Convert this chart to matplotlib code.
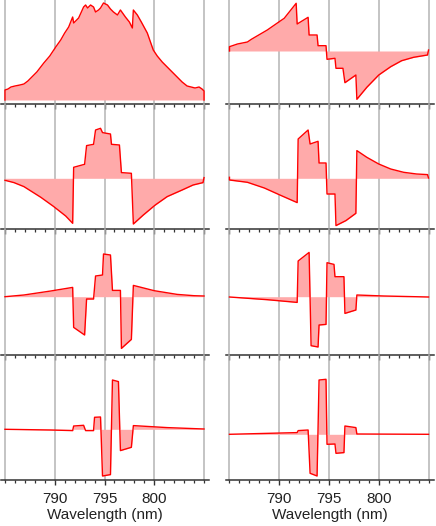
import matplotlib
matplotlib.use('Agg')
import matplotlib.pyplot as plt
from matplotlib.ticker import MultipleLocator

plt.rcParams['font.family'] = ['Liberation Sans', 'DejaVu Sans']

# wavelength (nm) / amplitude (arb. units), one pair per panel
wl_1 = [785.0, 785.0, 785.3, 785.6, 786.0, 786.5, 786.9, 787.3, 787.6, 788.2, 788.9, 789.5,
        790.1, 790.6, 791.0, 791.4, 791.8, 791.9, 792.4, 792.9, 793.1, 793.3, 793.6, 793.9,
        794.1, 794.4, 794.6, 794.9, 795.3, 795.6, 795.9, 796.3, 796.6, 797.1, 797.5, 797.8,
        797.9, 798.3, 798.7, 799.3, 799.9, 800.3, 800.8, 801.3, 801.8, 802.3, 802.8, 803.3,
        803.7, 804.1, 804.5, 804.8, 805.0, 805.0]
amp_1 = [0, 10, 11, 13, 14, 15, 16, 19, 22, 28, 37, 44,
         53, 60, 67, 73, 83, 77, 82, 93, 95, 92, 95, 93,
         88, 90, 92, 97, 95, 91, 88, 85, 90, 83, 78, 72,
         90, 85, 78, 67, 50, 44, 38, 33, 28, 23, 18, 14,
         13, 12, 13, 11, 9, 0]

wl_2 = [785.0, 785.0, 785.8, 786.8, 787.2, 788.8, 790.0, 790.5, 791.7, 791.8, 792.9, 793.0,
        793.8, 793.9, 794.7, 794.8, 795.6, 795.7, 796.4, 796.6, 797.7, 797.8, 798.8, 800.0,
        801.2, 802.3, 803.5, 804.9, 805.0]
amp_2 = [0, 4.3, 7, 9, 11.7, 21, 29.3, 32.7, 47.7, 27, 33.7, 16,
         16, 5.3, 5.3, -8.3, -7.3, -17.3, -17.3, -31.7, -24, -48.3, -36.3, -24,
         -15.7, -9.7, -6.3, -4, 1]

wl_3 = [785.0, 785.9, 786.9, 788.6, 789.9, 791.1, 791.8, 791.9, 793.0, 793.2, 793.9, 794.1,
        794.6, 794.8, 795.6, 795.7, 796.5, 796.7, 797.7, 797.9, 798.9, 800.1, 801.3, 802.8,
        803.9, 804.9, 805.0]
amp_3 = [-2, -4.3, -8.3, -19, -28.3, -37.7, -45, 11, 14, 32.7, 34, 48.3,
         50, 45.7, 44.3, 34, 33.3, 5.7, 5, -45.7, -36.7, -26.7, -18.3, -11.7,
         -6.7, -4.3, 0.7]

wl_4 = [785.0, 785.0, 786.8, 788.5, 790.2, 791.8, 791.9, 792.9, 793.1, 793.9, 794.0, 794.7,
        794.8, 795.6, 795.7, 796.7, 797.7, 797.8, 798.8, 800.0, 801.2, 802.5, 803.8, 804.9,
        805.0]
amp_4 = [1, -1.7, -4, -9.7, -17.3, -24.3, 39.3, 48.3, 34.3, 37, 15.3, 15.3,
         -15.7, -15.7, -47.3, -42.3, -35, 27.7, 21, 14.3, 9.3, 6, 4.3, 3.7,
         0.3]

wl_5 = [785.0, 786.9, 789.6, 791.8, 791.9, 793.0, 793.2, 793.9, 794.1, 794.8, 794.9, 795.6,
        795.8, 796.6, 796.7, 797.7, 797.9, 800.0, 802.3, 804.0, 805.0]
amp_5 = [0, 1.7, 5.7, 9.3, -30.7, -38.3, -2.3, -2.3, 20.7, 21.7, 42.7, 41.7,
         6.3, 6.3, -51.7, -42.7, 11.3, 6, 2.3, 1, 0.7]

wl_6 = [785.0, 788.8, 791.8, 791.9, 793.0, 793.2, 793.9, 794.0, 794.7, 794.8, 795.5, 795.6,
        796.5, 796.6, 797.7, 797.8, 800.5, 805.0]
amp_6 = [-0.3, -3, -5.7, 35.7, 44.3, -49, -50.3, -28.3, -27.7, 34, 32.3, 20,
         20, -16.7, -13.3, 1.7, 0.7, -0.3]

wl_7 = [785.0, 789.6, 791.8, 791.9, 792.9, 793.1, 793.9, 794.0, 794.6, 794.8, 795.6, 795.8,
        796.4, 796.6, 797.7, 797.9, 801.3, 805.0]
amp_7 = [0, -0.7, -1.3, 3.3, 4, -1.3, -1.3, 12, 12.3, -46.7, -45.3, 49.3,
         47.7, -21.3, -18, 3.7, 1.7, 0.3]

wl_8 = [785.0, 791.8, 791.9, 792.9, 793.1, 793.8, 794.0, 794.7, 794.8, 795.6, 795.7, 796.5,
        796.6, 797.7, 797.8, 805.0]
amp_8 = [0, 1.7, 3.7, 4.3, -39, -41.7, 54.3, 55, -10, -9.7, -19, -18.3,
         8.3, 6.7, 0.3, 0]

panels = [(wl_1, amp_1), (wl_2, amp_2), (wl_3, amp_3), (wl_4, amp_4),
          (wl_5, amp_5), (wl_6, amp_6), (wl_7, amp_7), (wl_8, amp_8)]
ylims = [(-4, 100), (-53, 51), (-50.7, 74.3), (-50.7, 74.3),
         (-58.3, 67.7), (-58.3, 67.7), (-50.7, 74.3), (-45.7, 79.3)]
tick_values = [790, 795, 800]
tick_labels = ['790', '795', '800']

W, H = 436, 526
fig = plt.figure(figsize=(W / 100, H / 100), dpi=100)

col_left = [1, 225.5]
col_width = 208
row_edges = [(0, 104), (104, 229), (229, 355), (355, 480)]

for i, (wl, amp) in enumerate(panels):
    row, col = divmod(i, 2)
    top, bot = row_edges[row]
    ax = fig.add_axes([col_left[col] / W, 1 - bot / H, col_width / W, (bot - top) / H])
    ax.patch.set_alpha(0)
    ax.fill_between(wl, amp, 0, color='#ffaaaa', linewidth=0, zorder=2)
    ax.plot(wl, amp, color='#ff0000', linewidth=1.0, zorder=3)
    ax.set_xlim(784.6, 805.5)
    ax.set_ylim(*ylims[i])

    # vertical grid, including the 785 / 805 edges
    for v in [785, 790, 795, 800, 805]:
        ax.axvline(v, color='#b4b4b4', linewidth=1.1, zorder=1, clip_on=False)

    for s in ['top', 'left', 'right']:
        ax.spines[s].set_visible(False)
    ax.spines['bottom'].set_color('#333333')
    ax.spines['bottom'].set_linewidth(1.1)
    ax.set_yticks([])
    ax.xaxis.set_major_locator(MultipleLocator(5))
    ax.xaxis.set_minor_locator(MultipleLocator(1))
    ax.tick_params(axis='x', which='major', direction='out', length=3.8, width=1.0,
                   color='#333333', labelsize=11, labelcolor='#222222', pad=4.5)
    ax.tick_params(axis='x', which='minor', direction='out', length=2.2, width=0.9,
                   color='#333333')
    if row == 3:
        ax.set_xticks(tick_values)
        ax.set_xticklabels(tick_labels)
        ax.set_xlabel('Wavelength (nm)', fontsize=11, color='#222222', labelpad=1.5)
    else:
        ax.set_xticklabels([])

fig.savefig('out.png', dpi=100)
